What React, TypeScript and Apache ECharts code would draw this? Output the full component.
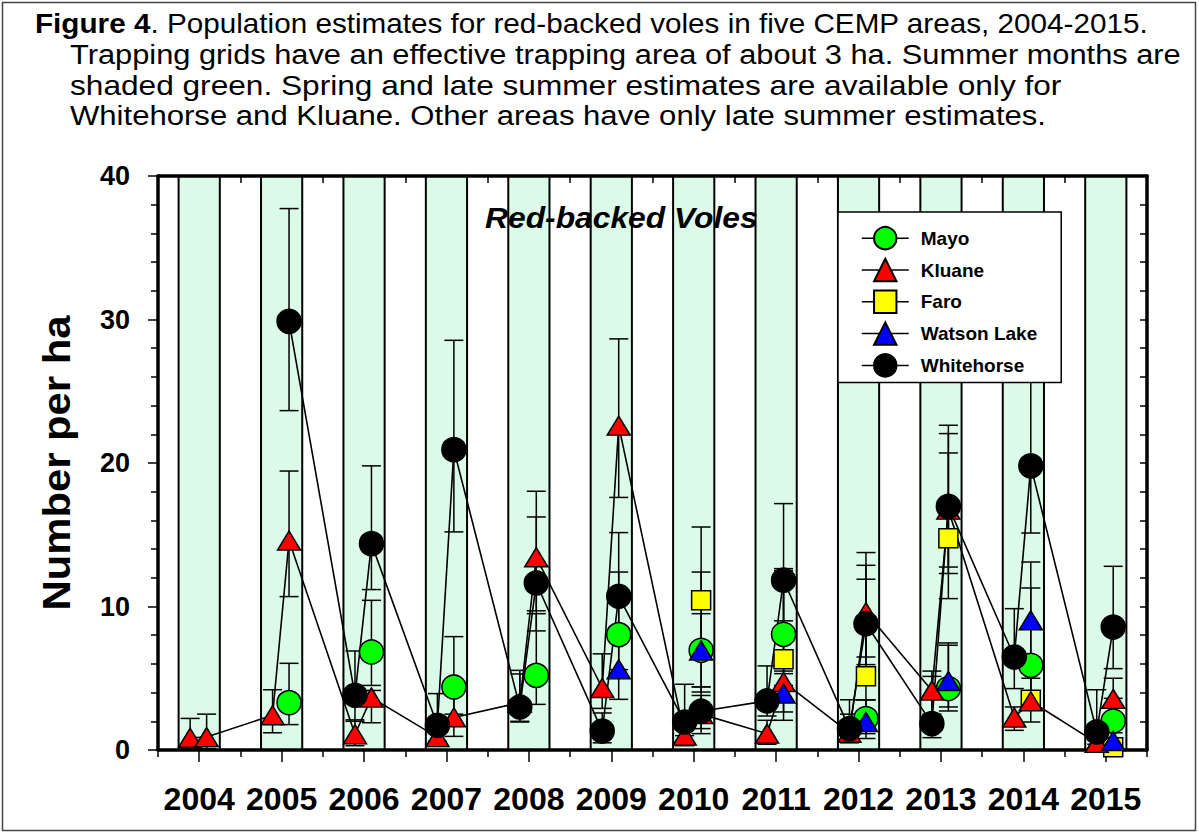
import React, { useEffect, useRef } from "react";
import * as echarts from "echarts";

const FONT = "'Liberation Sans', Arial, Helvetica, sans-serif";

// Year categories (labels) and numeric year starts
const yearLabels = ["2004", "2005", "2006", "2007", "2008", "2009", "2010", "2011", "2012", "2013", "2014", "2015"];
const yearStarts = [2004, 2005, 2006, 2007, 2008, 2009, 2010, 2011, 2012, 2013, 2014, 2015];
// Summer shading, as fraction of the year
const summerStart = 0.25;
const summerEnd = 0.75;

// [decimal year, estimate, lower CI, upper CI]
const mayo = [
  [2005.59, 3.3, 1.77, 6.04],
  [2006.59, 6.83, 4.5, 10.43],
  [2007.59, 4.39, 2.5, 7.9],
  [2008.59, 5.2, 3.18, 9.5],
  [2009.59, 8.04, 5.6, 12.4],
  [2010.59, 6.95, 4.4, 12.4],
  [2011.59, 8.06, 5.5, 12.64],
  [2012.59, 2.19, 1.14, 3.5],
  [2013.59, 4.28, 2.72, 7.3],
  [2014.59, 5.9, 4.0, 11.29],
  [2015.59, 2.02, 1.2, 3.6],
];

const kluane = [
  [2004.39, 0.85, 0.1, 2.2],
  [2004.59, 0.9, 0.1, 2.5],
  [2005.39, 2.42, 1.2, 4.2],
  [2005.59, 14.6, 10.69, 19.44],
  [2006.39, 1.1, 0.3, 2.1],
  [2006.59, 3.65, 1.9, 4.15],
  [2007.39, 0.9, 0.3, 1.8],
  [2007.59, 2.27, 0.95, 3.93],
  [2008.39, 3.3, 2.0, 5.3],
  [2008.59, 13.43, 9.7, 18.03],
  [2009.39, 4.32, 2.9, 6.7],
  [2009.59, 22.6, 17.6, 28.65],
  [2010.39, 1.0, 0.3, 1.9],
  [2010.59, 2.5, 1.14, 3.8],
  [2011.39, 1.14, 0.4, 2.07],
  [2011.59, 4.74, 2.65, 12.5],
  [2012.39, 1.2, 0.5, 2.5],
  [2012.59, 9.6, 6.48, 13.76],
  [2013.39, 4.14, 2.5, 5.5],
  [2013.59, 16.75, 12.3, 22.05],
  [2014.39, 2.26, 1.37, 3.0],
  [2014.59, 3.4, 2.77, 5.0],
  [2015.39, 0.5, 0.1, 1.5],
  [2015.59, 3.56, 2.4, 5.0],
];

const faro = [
  [2010.59, 10.43, 7.5, 15.54],
  [2011.59, 6.32, 4.5, 9.0],
  [2012.59, 5.14, 3.5, 11.9],
  [2013.59, 14.75, 10.55, 20.7],
  [2014.59, 3.51, 1.95, 5.5],
  [2015.59, 0.2, 0.0, 0.6],
];

const watsonLake = [
  [2009.59, 5.62, 3.53, 8.0],
  [2010.59, 6.93, 4.04, 9.5],
  [2011.59, 3.93, 2.07, 5.32],
  [2012.59, 1.95, 0.8, 3.5],
  [2013.59, 4.81, 3.0, 7.46],
  [2014.59, 9.04, 6.5, 13.1],
  [2015.59, 0.63, 0.1, 1.5],
];

const whitehorse = [
  [2005.59, 29.87, 23.65, 37.73],
  [2006.39, 3.81, 2.0, 6.9],
  [2006.59, 14.38, 11.18, 19.8],
  [2007.39, 1.72, 0.6, 3.93],
  [2007.59, 20.93, 15.2, 28.55],
  [2008.39, 3.0, 1.95, 5.55],
  [2008.59, 11.64, 8.3, 16.24],
  [2009.39, 1.32, 0.5, 2.58],
  [2009.59, 10.71, 7.5, 15.15],
  [2010.39, 1.95, 1.0, 4.58],
  [2010.59, 2.7, 1.49, 4.4],
  [2011.39, 3.42, 2.37, 5.86],
  [2011.59, 11.83, 8.5, 17.17],
  [2012.39, 1.49, 0.8, 3.5],
  [2012.59, 8.8, 5.95, 12.87],
  [2013.39, 1.84, 0.86, 5.13],
  [2013.59, 16.98, 12.75, 22.63],
  [2014.39, 6.48, 4.28, 9.85],
  [2014.59, 19.8, 15.12, 27.0],
  [2015.39, 1.26, 0.4, 4.2],
  [2015.59, 8.57, 5.67, 12.8],
];

const captionLines = [
  "Trapping grids have an effective trapping area of about 3 ha. Summer months are",
  "shaded green. Spring and late summer estimates are available only for",
  "Whitehorse and Kluane. Other areas have only late summer estimates.",
];

const Y_MIN = 0;
const Y_MAX = 40;

function buildOption() {
  const axisLineStyle = { color: "#000", width: 3.5 };
  const tickStyle = { color: "#000", width: 1.5 };

  const errorBarSeries = (name: string, rows: number[][]) => ({
    type: "custom",
    name: name + " CI",
    xAxisIndex: 0,
    yAxisIndex: 0,
    silent: true,
    clip: false,
    data: rows.map((r) => [r[0], r[2], r[3]]),
    encode: { x: 0, y: [1, 2] },
    renderItem: (_p: any, api: any) => {
      const x = api.value(0);
      const lo = api.coord([x, api.value(1)]);
      const hi = api.coord([x, api.value(2)]);
      const hw = 9.5;
      const st = { stroke: "#000", lineWidth: 1.5 };
      return {
        type: "group",
        children: [
          { type: "line", shape: { x1: lo[0], y1: lo[1], x2: hi[0], y2: hi[1] }, style: st },
          { type: "line", shape: { x1: hi[0] - hw, y1: hi[1], x2: hi[0] + hw, y2: hi[1] }, style: st },
          { type: "line", shape: { x1: lo[0] - hw, y1: lo[1], x2: lo[0] + hw, y2: lo[1] }, style: st },
        ],
      };
    },
    z: 2,
  });

  const pointSeries = (
    name: string,
    rows: number[][],
    color: string,
    symbol: string,
    size: number | number[],
    connected: boolean
  ) => ({
    type: "line",
    name,
    xAxisIndex: 0,
    yAxisIndex: 0,
    data: rows.map((r) => [r[0], r[1]]),
    symbol,
    symbolSize: size,
    showAllSymbol: true,
    clip: false,
    itemStyle: { color, borderColor: "#000", borderWidth: 1.5, opacity: 1 },
    lineStyle: connected ? { color: "#000", width: 1.6 } : { color: "#000", width: 1.6, opacity: 0 },
    emphasis: { disabled: true },
    silent: true,
    z: 2,
  });

  const bands = {
    type: "custom",
    name: "summer",
    xAxisIndex: 0,
    yAxisIndex: 0,
    silent: true,
    clip: false,
    data: yearStarts.map((y) => [y + summerStart, y + summerEnd]),
    encode: { x: [0, 1] },
    renderItem: (_p: any, api: any) => {
      const a = api.coord([api.value(0), Y_MAX]);
      const b = api.coord([api.value(1), Y_MIN]);
      const st = { stroke: "#000", lineWidth: 2 };
      return {
        type: "group",
        children: [
          { type: "rect", shape: { x: a[0], y: a[1], width: b[0] - a[0], height: b[1] - a[1] }, style: { fill: "#dcfae8" } },
          { type: "line", shape: { x1: a[0], y1: a[1], x2: a[0], y2: b[1] }, style: st },
          { type: "line", shape: { x1: b[0], y1: a[1], x2: b[0], y2: b[1] }, style: st },
        ],
      };
    },
    z: 0,
  };

  const captionScale = [1.1, 1.13, 1.11];

  return {
    animation: false,
    backgroundColor: "#fff",
    grid: { left: 158, top: 176, width: 989, height: 574, containLabel: false },
    xAxis: [
      {
        type: "value",
        min: 2004,
        max: 2016,
        interval: 1,
        position: "bottom",
        axisLine: { show: true, lineStyle: axisLineStyle },
        axisTick: { show: true, length: 7, lineStyle: tickStyle },
        axisLabel: { show: false },
        splitLine: { show: false },
        z: 1,
      },
      {
        type: "category",
        data: yearLabels,
        boundaryGap: true,
        position: "bottom",
        axisLine: { show: false },
        axisTick: { show: true, alignWithLabel: true, interval: 0, length: 12, lineStyle: tickStyle },
        axisLabel: { interval: 0, fontFamily: FONT, fontSize: 32, fontWeight: "bold", color: "#000", margin: 33 },
        splitLine: { show: false },
        z: 1,
      },
      {
        type: "value",
        min: 2004,
        max: 2016,
        interval: 1,
        position: "top",
        axisLine: { show: true, lineStyle: axisLineStyle },
        axisTick: { show: true, inside: true, length: 7, lineStyle: tickStyle },
        axisLabel: { show: false },
        splitLine: { show: false },
        z: 1,
      },
    ],
    yAxis: [
      {
        type: "value",
        min: Y_MIN,
        max: Y_MAX,
        interval: 10,
        position: "left",
        axisLine: { show: true, lineStyle: axisLineStyle },
        axisTick: { show: true, length: 10, lineStyle: tickStyle },
        minorTick: { show: true, splitNumber: 5, length: 7, lineStyle: tickStyle },
        axisLabel: { fontFamily: FONT, fontSize: 27, fontWeight: "bold", color: "#000", margin: 28 },
        splitLine: { show: false },
        minorSplitLine: { show: false },
        z: 1,
      },
      {
        type: "value",
        min: Y_MIN,
        max: Y_MAX,
        interval: 2,
        position: "right",
        axisLine: { show: true, lineStyle: axisLineStyle },
        axisTick: { show: true, inside: true, length: 7, lineStyle: tickStyle },
        axisLabel: { show: false },
        splitLine: { show: false },
        z: 1,
      },
    ],
    legend: {
      data: ["Mayo", "Kluane", "Faro", "Watson Lake", "Whitehorse"],
      orient: "vertical",
      left: 838,
      top: 212,
      padding: [14, 24, 5, 23],
      itemWidth: 47,
      itemHeight: 28,
      itemGap: 7.4,
      backgroundColor: "#fff",
      borderColor: "#000",
      borderWidth: 1.5,
      borderRadius: 0,
      selectedMode: false,
      lineStyle: { color: "#000", width: 1.5, opacity: 1, type: "solid" },
      textStyle: { fontFamily: FONT, fontSize: 19, fontWeight: "bold", color: "#000", padding: [0, 0, 0, 7] },
    },
    graphic: [
      {
        type: "rect",
        shape: { x: 2.5, y: 2.5, width: 1193, height: 828 },
        style: { fill: "none", stroke: "#444", lineWidth: 1.5 },
        silent: true,
        z: -1,
      },
      {
        type: "text",
        x: 35,
        y: 23,
        scaleX: 1.06,
        style: {
          text: "{b|Figure 4}. Population estimates for red-backed voles in five CEMP areas, 2004-2015.",
          fontFamily: FONT,
          fontSize: 28,
          fill: "#000",
          verticalAlign: "middle",
          rich: { b: { fontFamily: FONT, fontSize: 28, fontWeight: "bold", fill: "#000" } },
        },
        silent: true,
      },
      ...captionLines.map((t, i) => ({
        type: "text",
        x: 70,
        y: 54 + i * 30.7,
        scaleX: captionScale[i],
        style: { text: t, fontFamily: FONT, fontSize: 28, fill: "#000", verticalAlign: "middle" },
        silent: true,
      })),
      {
        type: "text",
        x: 485,
        y: 218,
        scaleX: 1.06,
        style: {
          text: "Red-backed Voles",
          fontFamily: FONT,
          fontSize: 30,
          fontWeight: "bold",
          fontStyle: "italic",
          fill: "#000",
          verticalAlign: "middle",
        },
        silent: true,
        z: 5,
      },
      {
        type: "text",
        x: 57,
        y: 463,
        rotation: Math.PI / 2,
        scaleX: 1.1,
        style: {
          text: "Number per ha",
          fontFamily: FONT,
          fontSize: 38,
          fontWeight: "bold",
          fill: "#000",
          align: "center",
          verticalAlign: "middle",
        },
        silent: true,
      },
    ],
    series: [
      bands,
      pointSeries("Mayo", mayo, "#00ff00", "circle", 24, false),
      pointSeries("Faro", faro, "#ffff00", "rect", 19, false),
      errorBarSeries("Mayo", mayo),
      errorBarSeries("Faro", faro),
      errorBarSeries("Kluane", kluane),
      errorBarSeries("Watson Lake", watsonLake),
      errorBarSeries("Whitehorse", whitehorse),
      pointSeries("Kluane", kluane, "#ff0000", "triangle", [23, 19], true),
      pointSeries("Watson Lake", watsonLake, "#0000ff", "triangle", [23, 19], false),
      pointSeries("Whitehorse", whitehorse, "#000000", "circle", 24, true),
    ],
  };
}

export default function App() {
  const ref = useRef<HTMLDivElement>(null);
  useEffect(() => {
    if (!ref.current) return;
    const chart = echarts.init(ref.current, null, { renderer: "svg" });
    chart.setOption(buildOption() as any);
    return () => {
      chart.dispose();
    };
  }, []);
  return (
    <div
      ref={ref}
      style={{ position: "fixed", left: 0, top: 0, width: 1199, height: 834, background: "#fff" }}
    />
  );
}
